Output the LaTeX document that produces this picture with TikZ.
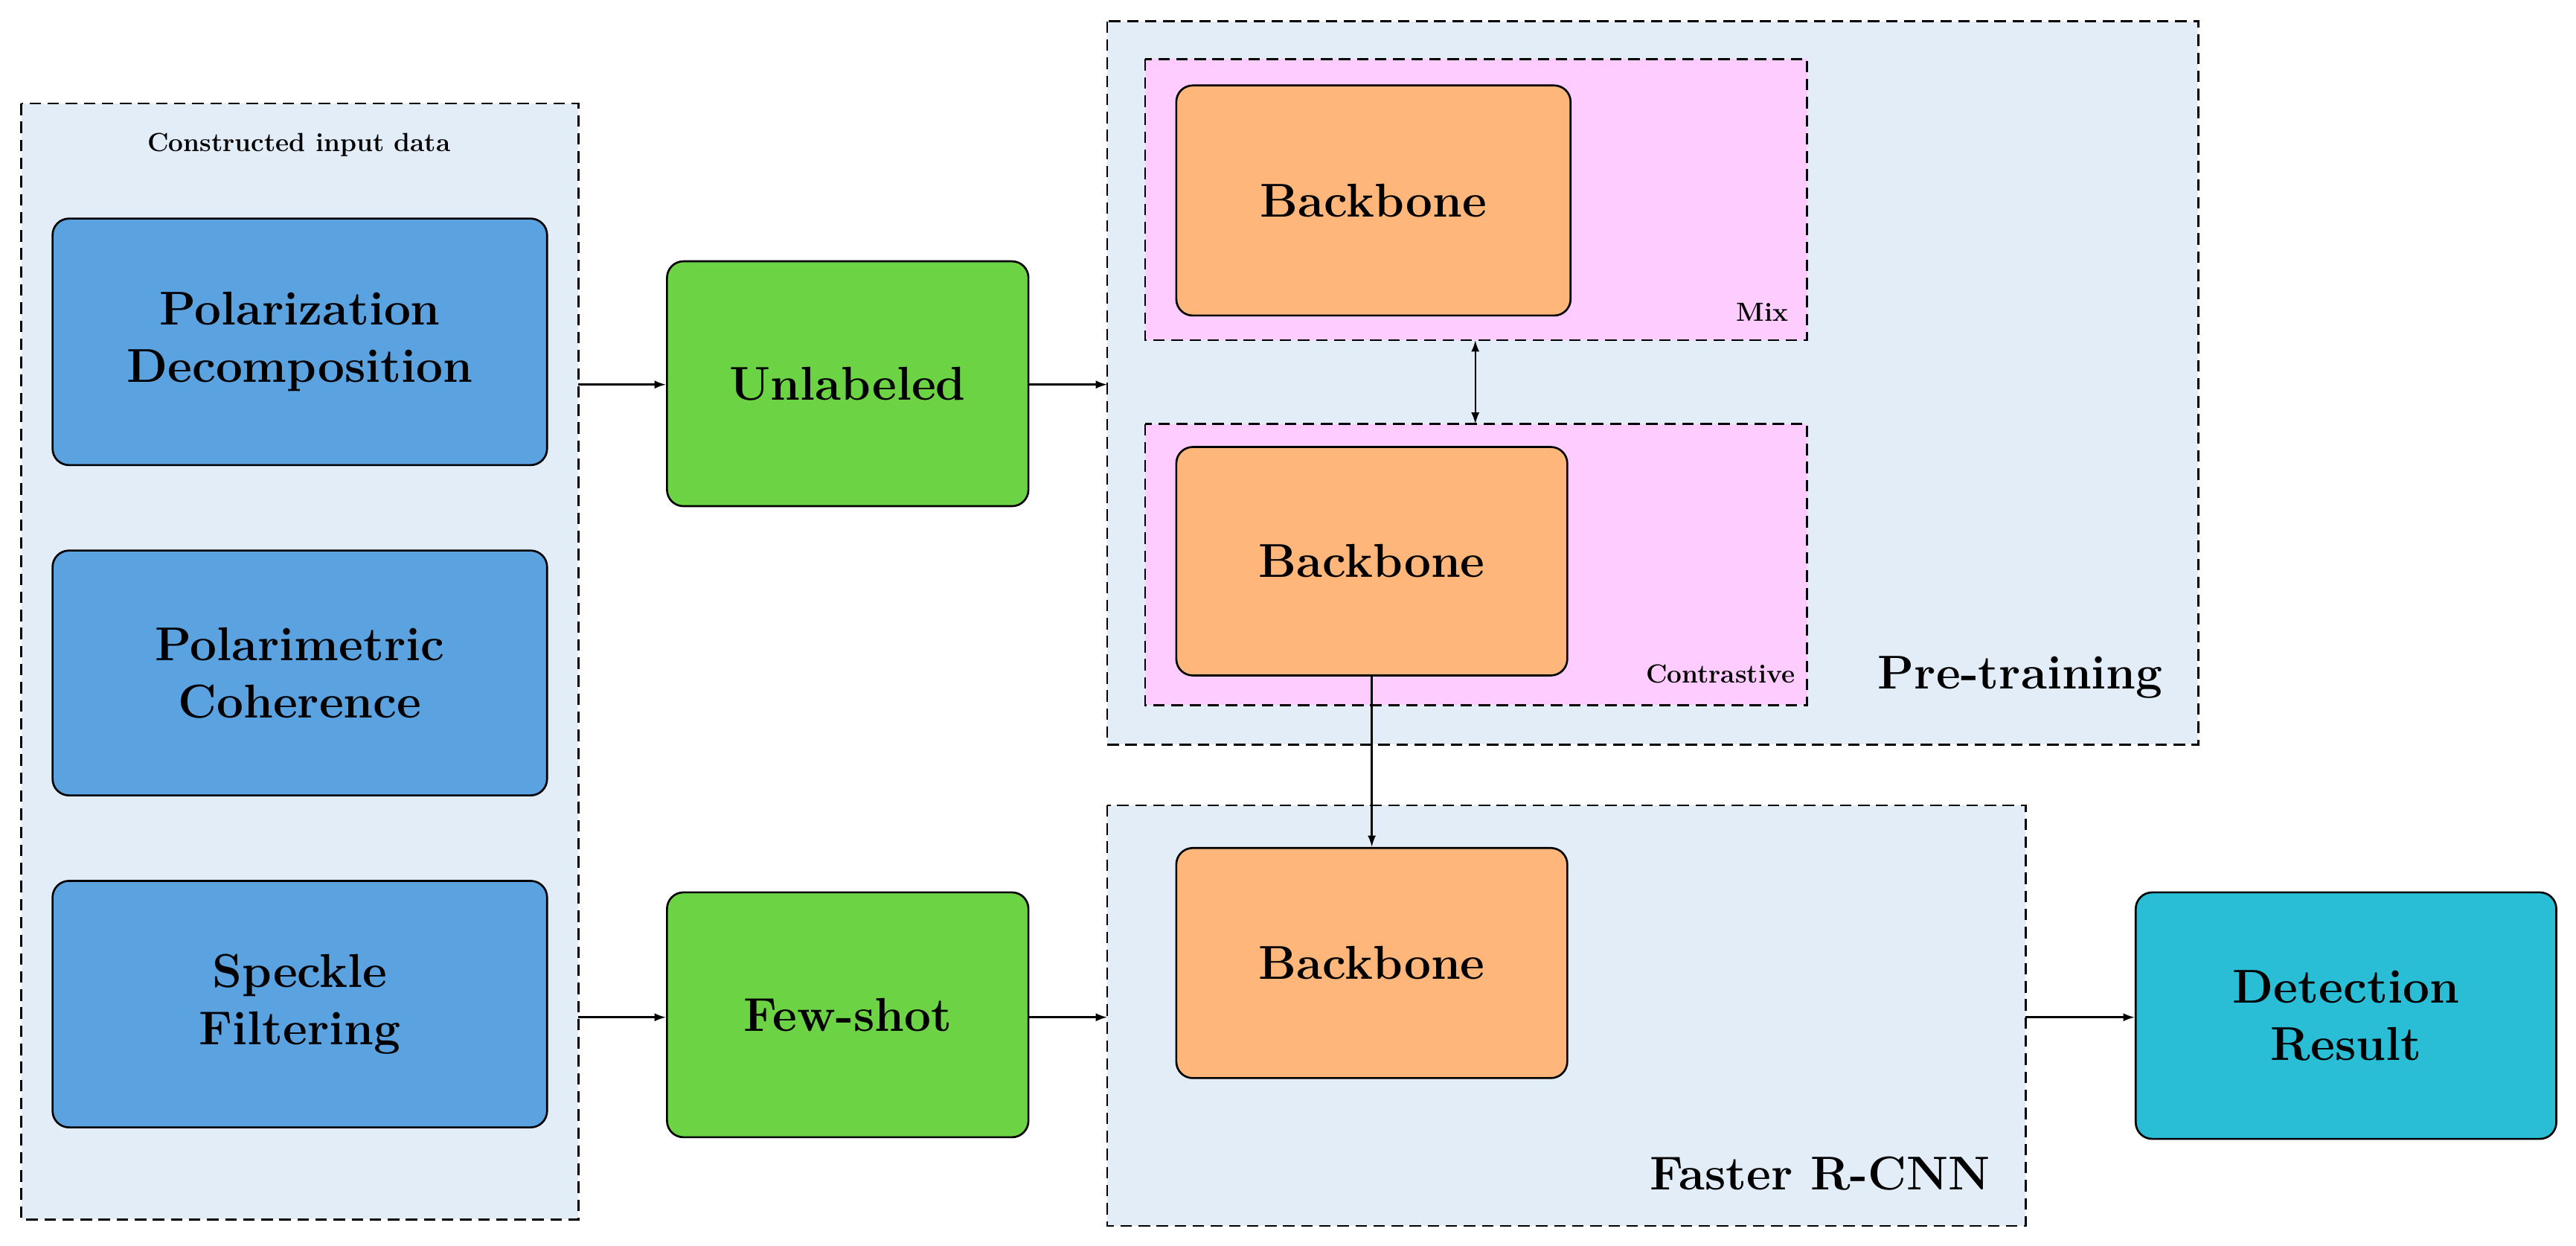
\documentclass[tikz,border=0pt]{standalone}
\usetikzlibrary{arrows.meta}
\definecolor{cbg}{HTML}{E3EDF8}
\definecolor{cblue}{HTML}{5BA2E0}
\definecolor{cgreen}{HTML}{6CD444}
\definecolor{cpink}{HTML}{FFCCFF}
\definecolor{corange}{HTML}{FFB67A}
\definecolor{ccyan}{HTML}{29BED5}
\begin{document}
\begin{tikzpicture}[x=1bp,y=-1bp,
 cont/.style={draw,dashed,line width=1.2bp,fill=cbg,dash pattern=on 7bp off 4bp},
 pinkc/.style={draw,dashed,line width=1.2bp,fill=cpink,dash pattern=on 7bp off 4bp},
 box/.style={draw,line width=1.2bp,rounded corners=10bp},
 big/.style={font=\fontsize{29}{35}\selectfont\bfseries,align=center},
 small/.style={font=\fontsize{16}{19}\selectfont\bfseries},
 arr/.style={-{Latex[length=7bp,width=5bp]},line width=1.1bp}]
\useasboundingbox (0,0) rectangle (1568,758);
% containers
\draw[cont] (13,63) rectangle (352,742);
\node[small] (ttl) at (182,88) {Constructed input data};
\draw[cont] (674,13) rectangle (1338,453);
\node[big,anchor=east] (pt) at (1320,412) {Pre-training};
\draw[cont] (674,490) rectangle (1233,746);
\node[big,anchor=east] (fr) at (1215,714) {Faster R-CNN};
\draw[pinkc] (697,36) rectangle (1100,207);
\draw[pinkc] (697,258) rectangle (1100,429);
\node[small,anchor=east] (mixl) at (1092,190) {Mix};
\node[small,anchor=east] (conl) at (1096,410) {Contrastive};
% coordinates for container edges
\coordinate (mixb) at (898,207);
\coordinate (cont) at (898,258);
\coordinate (ptl) at (674,234);
\coordinate (frl) at (674,619);
\coordinate (frr) at (1233,619);
\coordinate (inr1) at (352,234);
\coordinate (inr2) at (352,619);
% blue
\node[box,fill=cblue,big,minimum width=301bp,minimum height=150bp] (pd) at (182.5,208) {Polarization\\Decomposition};
\node[box,fill=cblue,big,minimum width=301bp,minimum height=149bp] (pc) at (182.5,409.5) {Polarimetric\\Coherence};
\node[box,fill=cblue,big,minimum width=301bp,minimum height=150bp] (sf) at (182.5,611) {Speckle\\Filtering};
% green
\node[box,fill=cgreen,big,minimum width=220bp,minimum height=149bp] (un) at (516,233.5) {Unlabeled};
\node[box,fill=cgreen,big,minimum width=220bp,minimum height=149bp] (fs) at (516,617.5) {Few-shot};
% orange
\node[box,fill=corange,big,minimum width=240bp,minimum height=140bp] (b1) at (836,122) {Backbone};
\node[box,fill=corange,big,minimum width=238bp,minimum height=139bp] (b2) at (835,341.5) {Backbone};
\node[box,fill=corange,big,minimum width=238bp,minimum height=140bp] (b3) at (835,586) {Backbone};
% cyan
\node[box,fill=ccyan,big,minimum width=256bp,minimum height=150bp] (dr) at (1428,618) {Detection\\Result};
% arrows
\draw[arr] (inr1) -- (un.west|-inr1);
\draw[arr] (un.east|-ptl) -- (ptl);
\draw[arr,{Latex[length=7bp,width=5bp]}-{Latex[length=7bp,width=5bp]}] (mixb) -- (cont);
\draw[arr] (b2.south) -- (b3.north);
\draw[arr] (inr2) -- (fs.west|-inr2);
\draw[arr] (fs.east|-frl) -- (frl);
\draw[arr] (frr) -- (dr.west|-frr);
\end{tikzpicture}
\end{document}
